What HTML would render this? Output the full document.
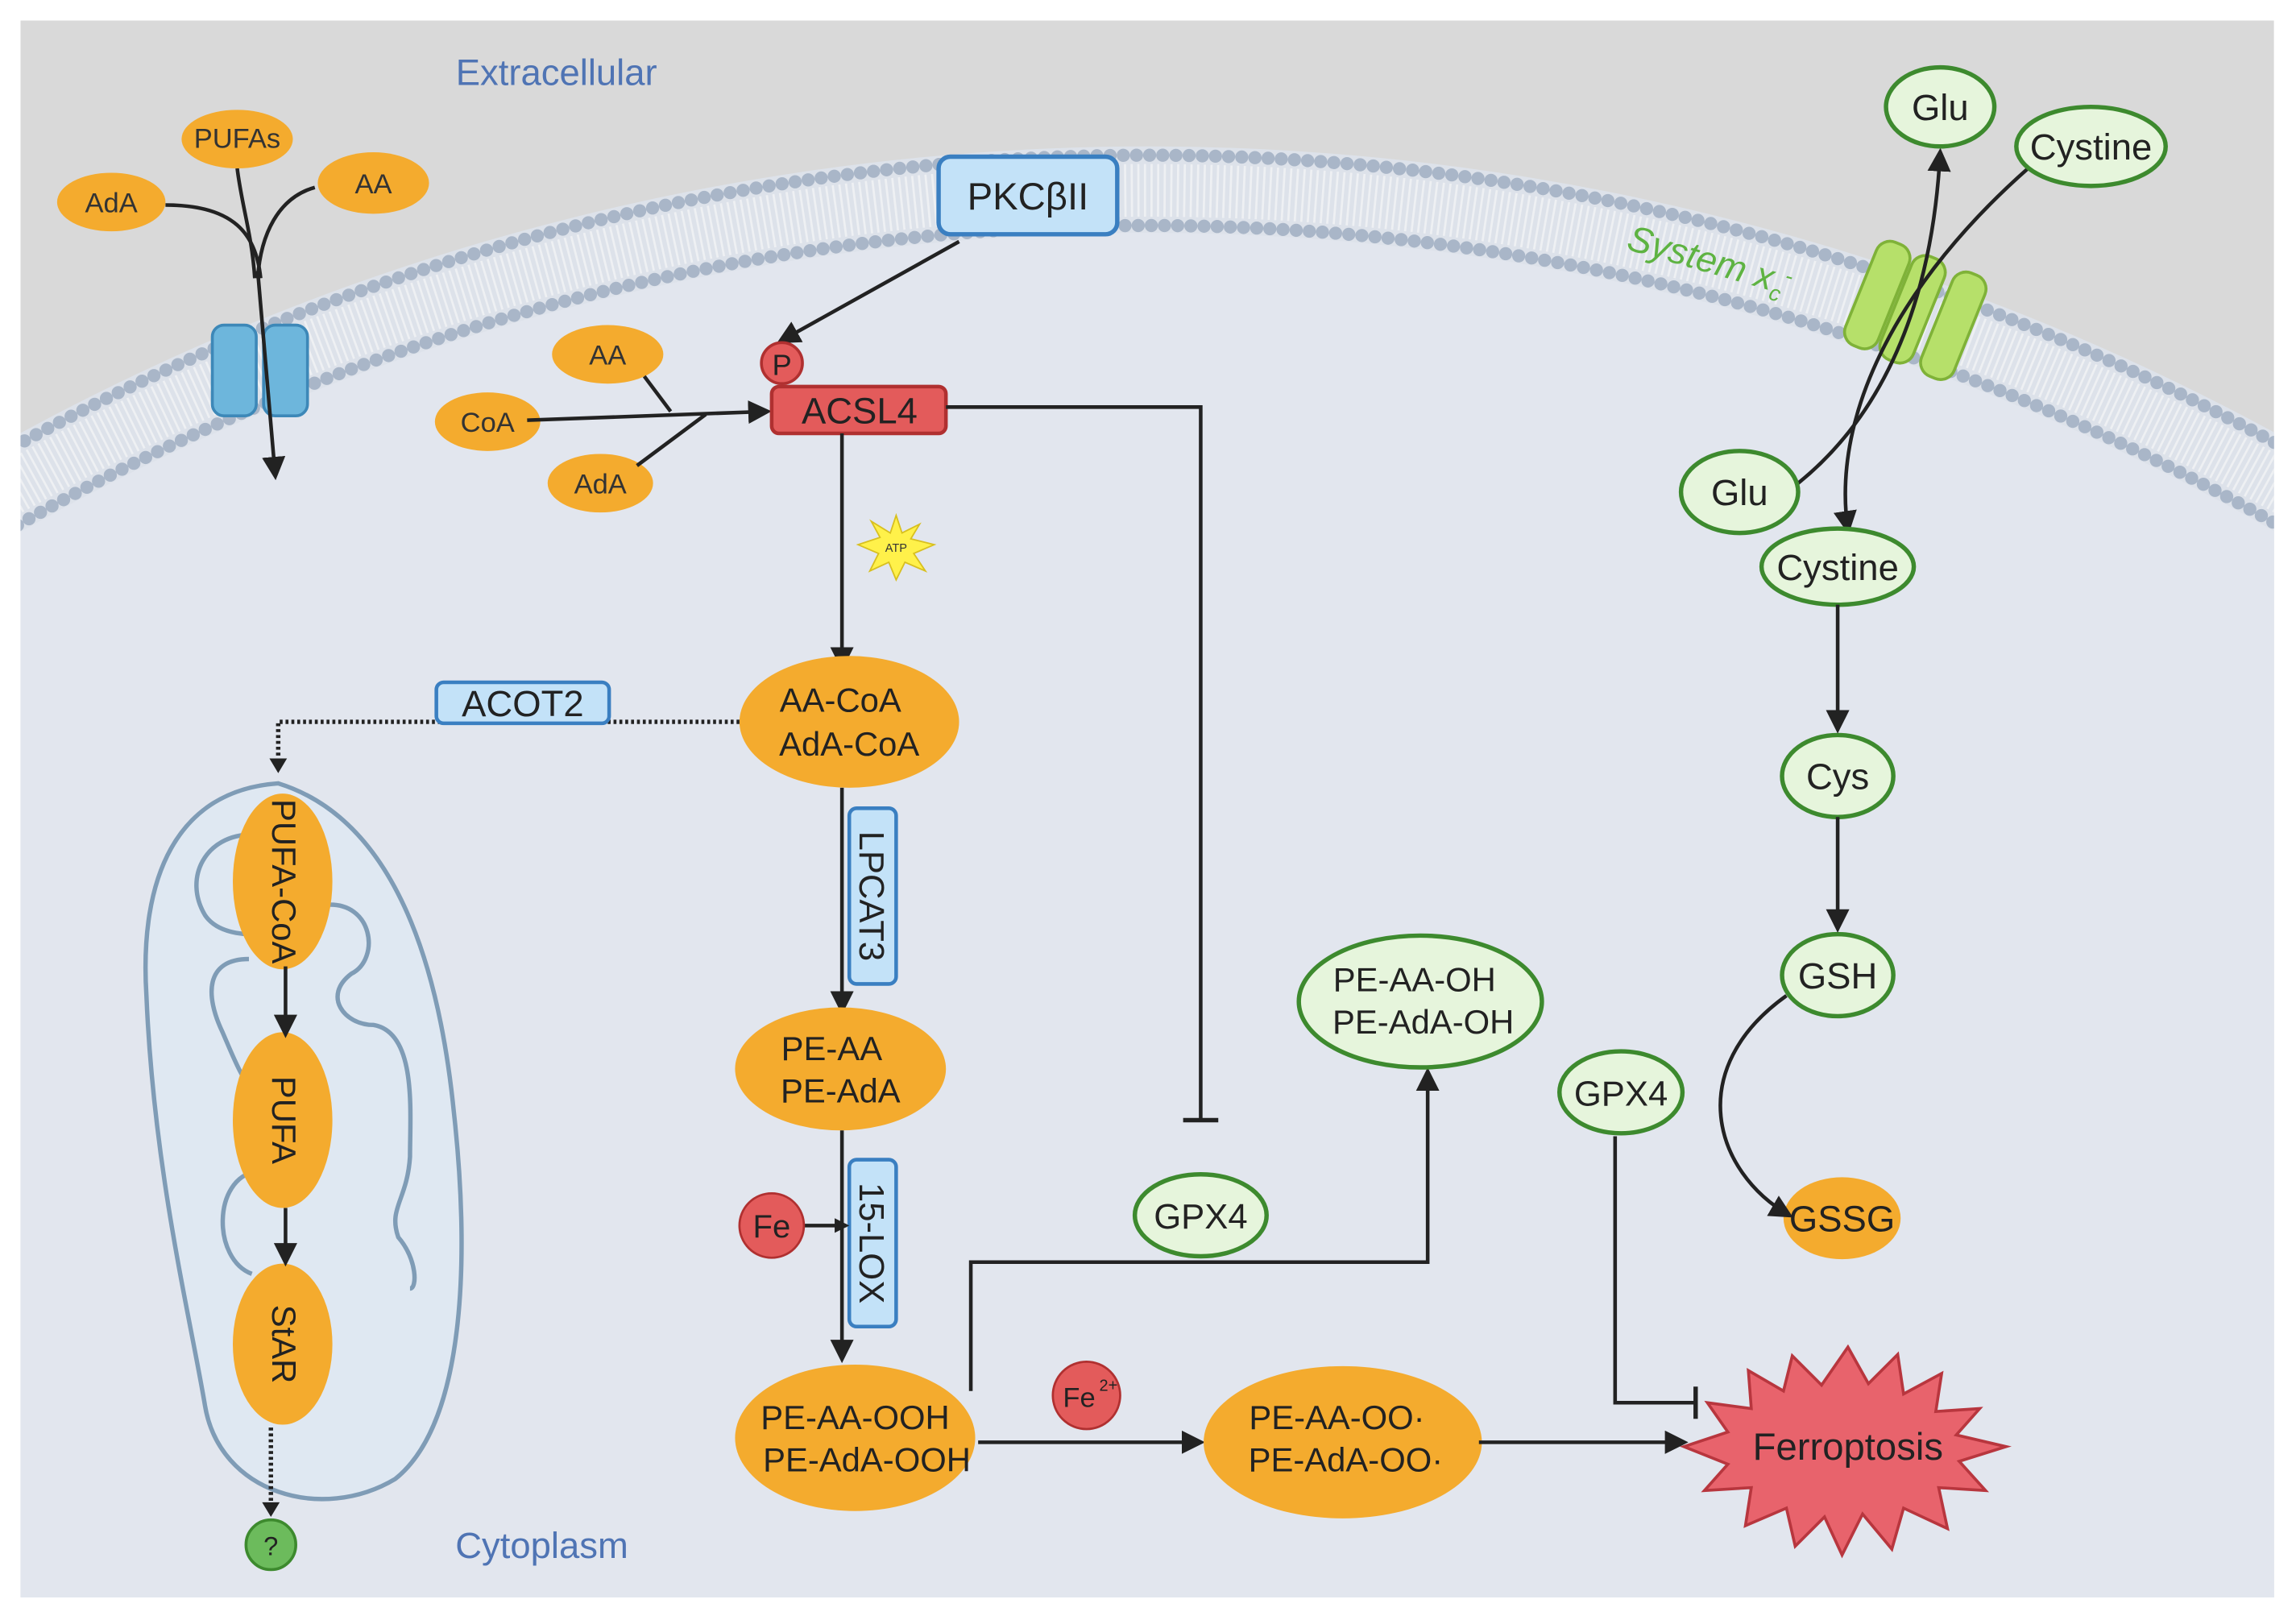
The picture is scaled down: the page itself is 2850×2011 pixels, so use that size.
<!DOCTYPE html>
<html><head><meta charset="utf-8"><style>html,body{margin:0;padding:0;background:#fff;width:2850px;height:2011px;overflow:hidden}svg{display:block}text{font-family:"Liberation Sans",sans-serif}</style></head><body>
<svg width="2850" height="2011" viewBox="0 0 1568 1106.4" xmlns="http://www.w3.org/2000/svg">
<defs>
<marker id="ar" markerWidth="10" markerHeight="10" refX="8" refY="5" orient="auto" markerUnits="userSpaceOnUse"><path d="M0,0 L10,5 L0,10 z" fill="#222"/></marker>
<marker id="arb" markerWidth="16" markerHeight="16" refX="13" refY="8" orient="auto" markerUnits="userSpaceOnUse"><path d="M0,0 L16,8 L0,16 z" fill="#222"/></marker>
<clipPath id="cl"><rect x="14" y="14" width="1539" height="1077"/></clipPath>
</defs>
<rect width="1568" height="1107" fill="#fff"/>
<g clip-path="url(#cl)">
<rect x="14" y="14" width="1539" height="1077" fill="#d9d9d9"/>
<circle cx="784" cy="1712" r="1612" fill="#dde2ea"/>
<circle cx="784" cy="1712" r="1606" fill="none" stroke="#a9b6c8" stroke-width="9" stroke-dasharray="0 9" stroke-linecap="round"/>
<circle cx="784" cy="1712" r="1558" fill="none" stroke="#a9b6c8" stroke-width="9" stroke-dasharray="0 9" stroke-linecap="round"/>
<circle cx="784" cy="1712" r="1582" fill="none" stroke="#eef0f3" stroke-width="36" stroke-dasharray="1.5 3"/>
<circle cx="784" cy="1712" r="1553" fill="#e2e6ee"/>
</g>
<text x="380" y="58" font-size="25" fill="#4f74b4" text-anchor="middle">Extracellular</text>
<text x="370" y="1064" font-size="25" fill="#4f74b4" text-anchor="middle">Cytoplasm</text>
<rect x="145" y="222" width="30" height="62" rx="8" fill="#6db6dc" stroke="#3d88b8" stroke-width="2"/>
<rect x="180" y="222" width="30" height="62" rx="8" fill="#6db6dc" stroke="#3d88b8" stroke-width="2"/>
<path d="M113,140 C160,140 175,160 178,190" fill="none" stroke="#222" stroke-width="2.5"/>
<path d="M162,115 C165,140 172,160 174,190" fill="none" stroke="#222" stroke-width="2.5"/>
<path d="M215,128 C190,135 178,160 176,190" fill="none" stroke="#222" stroke-width="2.5"/>
<line x1="176" y1="185" x2="188" y2="325" stroke="#222" stroke-width="2.5" marker-end="url(#arb)"/>
<g font-size="19" text-anchor="middle" fill="#333">
<ellipse cx="162" cy="95" rx="38" ry="20" fill="#f4ab2e"/><text x="162" y="101">PUFAs</text>
<ellipse cx="76" cy="138" rx="37" ry="20" fill="#f4ab2e"/><text x="76" y="145">AdA</text>
<ellipse cx="255" cy="125" rx="38" ry="21" fill="#f4ab2e"/><text x="255" y="132">AA</text>
<ellipse cx="415" cy="242" rx="38" ry="20" fill="#f4ab2e"/><text x="415" y="249">AA</text>
<ellipse cx="333" cy="288" rx="36" ry="20" fill="#f4ab2e"/><text x="333" y="295">CoA</text>
<ellipse cx="410" cy="330" rx="36" ry="20" fill="#f4ab2e"/><text x="410" y="337">AdA</text>
</g>
<line x1="655" y1="165" x2="533" y2="233" stroke="#222" stroke-width="2.5" marker-end="url(#arb)"/>
<rect x="641" y="107" width="122" height="53" rx="8" fill="#c3e2f8" stroke="#3a7fc1" stroke-width="3"/>
<text x="702" y="143" font-size="26" text-anchor="middle" fill="#222">PKCβII</text>
<line x1="360" y1="287" x2="524" y2="281" stroke="#222" stroke-width="2.5" marker-end="url(#arb)"/>
<line x1="440" y1="257" x2="458" y2="281" stroke="#222" stroke-width="2.5"/>
<line x1="435" y1="318" x2="482" y2="283" stroke="#222" stroke-width="2.5"/>
<circle cx="534" cy="248" r="14" fill="#e35b5b" stroke="#b03030" stroke-width="2"/>
<text x="534" y="256" font-size="20" text-anchor="middle" fill="#222">P</text>
<rect x="527" y="264" width="119" height="32" rx="5" fill="#e35b5b" stroke="#b03030" stroke-width="2.5"/>
<text x="587" y="289" font-size="25" text-anchor="middle" fill="#222">ACSL4</text>
<polyline points="646,278 820,278 820,765" fill="none" stroke="#222" stroke-width="2.5"/>
<line x1="808" y1="765" x2="832" y2="765" stroke="#222" stroke-width="3"/>
<polygon points="612,352 616,364 628,358 622,368 638,372 624,378 632,390 618,384 612,396 607,384 594,390 600,378 586,372 601,367 595,356 608,364" fill="#fff14a" stroke="#d8c020" stroke-width="1"/>
<text x="612" y="377" font-size="8" text-anchor="middle" fill="#333">ATP</text>
<line x1="575" y1="296" x2="575" y2="455" stroke="#222" stroke-width="2.5" marker-end="url(#arb)"/>
<ellipse cx="580" cy="493" rx="75" ry="45" fill="#f4ab2e"/>
<text x="574" y="486" font-size="23" text-anchor="middle" fill="#222">AA-CoA</text>
<text x="580" y="516" font-size="23" text-anchor="middle" fill="#222">AdA-CoA</text>
<polyline points="505,493 190,493 190,522" fill="none" stroke="#222" stroke-width="3" stroke-dasharray="2 2"/>
<path d="M184,518 L196,518 L190,528 z" fill="#222"/>
<rect x="298" y="466" width="118" height="28" rx="5" fill="#c3e2f8" stroke="#3a7fc1" stroke-width="2.5"/>
<text x="357" y="489" font-size="25" text-anchor="middle" fill="#222">ACOT2</text>
<line x1="575" y1="538" x2="575" y2="690" stroke="#222" stroke-width="2.5" marker-end="url(#arb)"/>
<rect x="580" y="552" width="32" height="120" rx="5" fill="#c3e2f8" stroke="#3a7fc1" stroke-width="2.5"/>
<text transform="translate(587,612) rotate(90)" font-size="24" text-anchor="middle" fill="#222">LPCAT3</text>
<ellipse cx="574" cy="730" rx="72" ry="42" fill="#f4ab2e"/>
<text x="568" y="724" font-size="23" text-anchor="middle" fill="#222">PE-AA</text>
<text x="574" y="753" font-size="23" text-anchor="middle" fill="#222">PE-AdA</text>
<line x1="575" y1="772" x2="575" y2="928" stroke="#222" stroke-width="2.5" marker-end="url(#arb)"/>
<rect x="580" y="792" width="32" height="114" rx="5" fill="#c3e2f8" stroke="#3a7fc1" stroke-width="2.5"/>
<text transform="translate(587,849) rotate(90)" font-size="24" text-anchor="middle" fill="#222">15-LOX</text>
<line x1="549" y1="837" x2="578" y2="837" stroke="#222" stroke-width="2.5" marker-end="url(#ar)"/>
<circle cx="527" cy="837" r="22" fill="#e35b5b" stroke="#b03030" stroke-width="1.5"/>
<text x="527" y="845" font-size="22" text-anchor="middle" fill="#222">Fe</text>
<ellipse cx="584" cy="982" rx="82" ry="50" fill="#f4ab2e"/>
<text x="584" y="976" font-size="23" text-anchor="middle" fill="#222">PE-AA-OOH</text>
<text x="592" y="1005" font-size="23" text-anchor="middle" fill="#222">PE-AdA-OOH</text>
<polyline points="663,950 663,862 975,862 975,732" fill="none" stroke="#222" stroke-width="2.5" marker-end="url(#arb)"/>
<ellipse cx="970" cy="684" rx="83" ry="45" fill="#e6f5dc" stroke="#3d8a2e" stroke-width="3"/>
<text x="966" y="677" font-size="23" text-anchor="middle" fill="#222">PE-AA-OH</text>
<text x="972" y="706" font-size="23" text-anchor="middle" fill="#222">PE-AdA-OH</text>
<ellipse cx="820" cy="830" rx="45" ry="28" fill="#e6f5dc" stroke="#3d8a2e" stroke-width="3"/>
<text x="820" y="839" font-size="24" text-anchor="middle" fill="#222">GPX4</text>
<circle cx="742" cy="953" r="23" fill="#e35b5b" stroke="#b03030" stroke-width="1.5"/>
<text x="737" y="961" font-size="19" text-anchor="middle" fill="#222">Fe</text><text x="757" y="950" font-size="11" text-anchor="middle" fill="#222">2+</text>
<line x1="668" y1="985" x2="820" y2="985" stroke="#222" stroke-width="2.5" marker-end="url(#arb)"/>
<ellipse cx="917" cy="985" rx="95" ry="52" fill="#f4ab2e"/>
<text x="913" y="976" font-size="23" text-anchor="middle" fill="#222">PE-AA-OO·</text>
<text x="919" y="1005" font-size="23" text-anchor="middle" fill="#222">PE-AdA-OO·</text>
<line x1="1010" y1="985" x2="1150" y2="985" stroke="#222" stroke-width="2.5" marker-end="url(#arb)"/>
<polygon points="1262,920 1276,945 1296,925 1300,952 1326,938 1322,964 1352,962 1336,980 1370,988 1338,998 1356,1018 1324,1016 1330,1044 1300,1030 1292,1058 1272,1034 1258,1062 1246,1036 1226,1056 1220,1030 1192,1042 1196,1016 1164,1018 1180,1000 1150,988 1180,978 1166,958 1196,962 1194,936 1218,950 1224,926 1244,946" fill="#e8636c" stroke="#b8363e" stroke-width="2"/>
<text x="1262" y="997" font-size="26" text-anchor="middle" fill="#222">Ferroptosis</text>
<ellipse cx="1107" cy="746" rx="42" ry="28" fill="#e6f5dc" stroke="#3d8a2e" stroke-width="3"/>
<text x="1107" y="755" font-size="24" text-anchor="middle" fill="#222">GPX4</text>
<polyline points="1103,776 1103,958 1158,958" fill="none" stroke="#222" stroke-width="2.5"/>
<line x1="1158" y1="947" x2="1158" y2="969" stroke="#222" stroke-width="3"/>
<text transform="translate(1110,170) rotate(16)" font-size="25" font-style="italic" fill="#5eb342">System x<tspan font-size="15" dy="6">c</tspan><tspan font-size="15" dy="-14">-</tspan></text>
<g transform="translate(1308,212) rotate(22)">
<rect x="-40" y="-38" width="24" height="76" rx="10" fill="#b6e06a" stroke="#7fb238" stroke-width="2"/>
<rect x="-14" y="-38" width="24" height="76" rx="10" fill="#b6e06a" stroke="#7fb238" stroke-width="2"/>
<rect x="16" y="-38" width="24" height="76" rx="10" fill="#b6e06a" stroke="#7fb238" stroke-width="2"/>
</g>
<path d="M1228,330 C1290,280 1320,200 1325,104" fill="none" stroke="#222" stroke-width="2.5" marker-end="url(#arb)"/>
<path d="M1385,115 C1300,190 1250,280 1262,362" fill="none" stroke="#222" stroke-width="2.5" marker-end="url(#arb)"/>
<g font-size="25" text-anchor="middle" fill="#222">
<ellipse cx="1325" cy="73" rx="37" ry="27" fill="#e6f5dc" stroke="#3d8a2e" stroke-width="3"/><text x="1325" y="82">Glu</text>
<ellipse cx="1428" cy="100" rx="51" ry="27" fill="#e6f5dc" stroke="#3d8a2e" stroke-width="3"/><text x="1428" y="109">Cystine</text>
<ellipse cx="1188" cy="336" rx="40" ry="28" fill="#e6f5dc" stroke="#3d8a2e" stroke-width="3"/><text x="1188" y="345">Glu</text>
<ellipse cx="1255" cy="387" rx="52" ry="26" fill="#e6f5dc" stroke="#3d8a2e" stroke-width="3"/><text x="1255" y="396">Cystine</text>
<ellipse cx="1255" cy="530" rx="38" ry="28" fill="#e6f5dc" stroke="#3d8a2e" stroke-width="3"/><text x="1255" y="539">Cys</text>
<ellipse cx="1255" cy="666" rx="38" ry="28" fill="#e6f5dc" stroke="#3d8a2e" stroke-width="3"/><text x="1255" y="675">GSH</text>
<ellipse cx="1258" cy="832" rx="40" ry="28" fill="#f4ab2e"/><text x="1258" y="841">GSSG</text>
</g>
<line x1="1255" y1="413" x2="1255" y2="498" stroke="#222" stroke-width="2.5" marker-end="url(#arb)"/>
<line x1="1255" y1="558" x2="1255" y2="634" stroke="#222" stroke-width="2.5" marker-end="url(#arb)"/>
<path d="M1220,680 C1150,730 1170,800 1222,830" fill="none" stroke="#222" stroke-width="2.5" marker-end="url(#arb)"/>
<path d="M190,535 C120,540 95,600 100,680 C105,800 130,900 140,960 C150,1020 220,1040 270,1010 C320,970 320,850 310,760 C300,660 270,560 190,535 z" fill="#dfe8f2" stroke="#7f9cb6" stroke-width="3"/>
<path d="M172,570 C140,570 125,600 140,625 C150,640 175,638 175,638 M170,655 C140,655 140,680 152,705 C165,735 175,765 210,760 M222,618 C255,615 260,655 240,665 C220,680 235,700 255,700 C285,705 280,760 280,790 C278,820 265,825 272,845 C285,860 285,880 280,880 M175,800 C145,805 145,860 172,870" fill="none" stroke="#7f9cb6" stroke-width="3"/>
<g font-size="23" fill="#222" text-anchor="middle">
<ellipse cx="193" cy="602" rx="34" ry="60" fill="#f4ab2e"/><text transform="translate(186,602) rotate(90)">PUFA-CoA</text>
<ellipse cx="193" cy="765" rx="34" ry="60" fill="#f4ab2e"/><text transform="translate(186,765) rotate(90)">PUFA</text>
<ellipse cx="193" cy="918" rx="34" ry="55" fill="#f4ab2e"/><text transform="translate(186,918) rotate(90)">StAR</text>
</g>
<line x1="195" y1="660" x2="195" y2="706" stroke="#222" stroke-width="2.5" marker-end="url(#arb)"/>
<line x1="195" y1="825" x2="195" y2="862" stroke="#222" stroke-width="2.5" marker-end="url(#arb)"/>
<line x1="185" y1="975" x2="185" y2="1030" stroke="#222" stroke-width="3" stroke-dasharray="2 2"/>
<path d="M179,1026 L191,1026 L185,1036 z" fill="#222"/>
<circle cx="185" cy="1055" r="17" fill="#6cbb5c" stroke="#3d8a2e" stroke-width="2"/>
<text x="185" y="1062" font-size="18" text-anchor="middle" fill="#222">?</text>
</svg>
</body></html>
